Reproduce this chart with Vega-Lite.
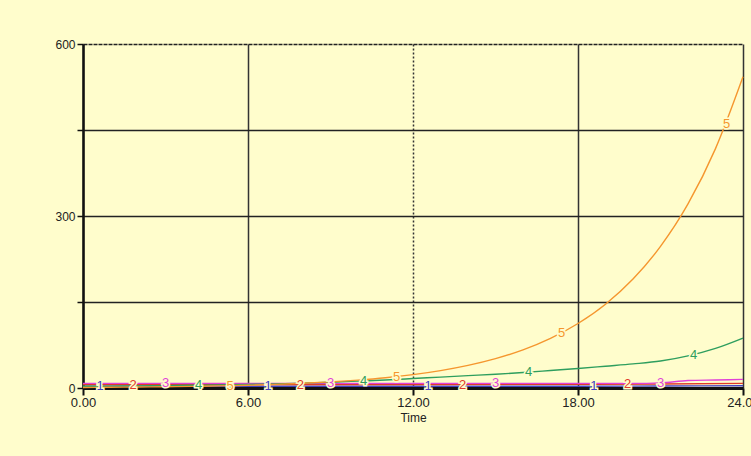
{
  "$schema": "https://vega.github.io/schema/vega-lite/v6.json",
  "autosize": "none",
  "width": 660,
  "height": 344,
  "padding": {"left": 83, "top": 44, "right": 8, "bottom": 68},
  "background": "#FFFDCC",
  "config": {
    "view": {"stroke": null},
    "font": "Liberation Sans"
  },
  "datasets": {
    "lines": [
      {"t": 0, "s": "1", "v": 3}, {"t": 6, "s": "1", "v": 3}, {"t": 12, "s": "1", "v": 3}, {"t": 18, "s": "1", "v": 3}, {"t": 21, "s": "1", "v": 3.5}, {"t": 24, "s": "1", "v": 4},
      {"t": 0, "s": "2", "v": 6}, {"t": 6, "s": "2", "v": 6}, {"t": 12, "s": "2", "v": 6}, {"t": 18, "s": "2", "v": 6.5}, {"t": 21, "s": "2", "v": 7}, {"t": 24, "s": "2", "v": 8},
      {"t": 0, "s": "3", "v": 8}, {"t": 6, "s": "3", "v": 8}, {"t": 12, "s": "3", "v": 8}, {"t": 18, "s": "3", "v": 8}, {"t": 20, "s": "3", "v": 8}, {"t": 21, "s": "3", "v": 9}, {"t": 22, "s": "3", "v": 13}, {"t": 23, "s": "3", "v": 14}, {"t": 24, "s": "3", "v": 15},
      {"t": 0, "s": "4", "v": 3}, {"t": 1, "s": "4", "v": 3.3}, {"t": 2, "s": "4", "v": 3.7}, {"t": 3, "s": "4", "v": 4.2}, {"t": 4, "s": "4", "v": 4.8}, {"t": 5, "s": "4", "v": 5.5}, {"t": 6, "s": "4", "v": 6.3}, {"t": 7, "s": "4", "v": 7.2}, {"t": 8, "s": "4", "v": 8.5}, {"t": 9, "s": "4", "v": 10}, {"t": 10, "s": "4", "v": 12}, {"t": 11, "s": "4", "v": 14}, {"t": 12, "s": "4", "v": 16.5}, {"t": 13, "s": "4", "v": 19}, {"t": 14, "s": "4", "v": 21.5}, {"t": 15, "s": "4", "v": 24}, {"t": 16, "s": "4", "v": 27}, {"t": 17, "s": "4", "v": 30.5}, {"t": 18, "s": "4", "v": 34}, {"t": 19, "s": "4", "v": 38}, {"t": 20, "s": "4", "v": 42}, {"t": 21, "s": "4", "v": 47}, {"t": 22, "s": "4", "v": 56}, {"t": 23, "s": "4", "v": 69}, {"t": 24, "s": "4", "v": 87},
      {"t": 0, "s": "5", "v": 1}, {"t": 1, "s": "5", "v": 1.3}, {"t": 2, "s": "5", "v": 1.69}, {"t": 3, "s": "5", "v": 2.2}, {"t": 4, "s": "5", "v": 2.86}, {"t": 5, "s": "5", "v": 3.71}, {"t": 6, "s": "5", "v": 4.83}, {"t": 7, "s": "5", "v": 6.27}, {"t": 8, "s": "5", "v": 8.16}, {"t": 9, "s": "5", "v": 10.6}, {"t": 10, "s": "5", "v": 13.8}, {"t": 11, "s": "5", "v": 17.9}, {"t": 12, "s": "5", "v": 23.3}, {"t": 13, "s": "5", "v": 30.3}, {"t": 14, "s": "5", "v": 39.4}, {"t": 15, "s": "5", "v": 51.2}, {"t": 16, "s": "5", "v": 66.5}, {"t": 17, "s": "5", "v": 86.5}, {"t": 18, "s": "5", "v": 112.5}, {"t": 19, "s": "5", "v": 146.2}, {"t": 20, "s": "5", "v": 190}, {"t": 21, "s": "5", "v": 247}, {"t": 22, "s": "5", "v": 321}, {"t": 23, "s": "5", "v": 417.5}, {"t": 24, "s": "5", "v": 542.8}
    ],
    "labels": [
      {"t": 0.62, "s": "1", "v": 3}, {"t": 6.73, "s": "1", "v": 3}, {"t": 12.55, "s": "1", "v": 3}, {"t": 18.58, "s": "1", "v": 3},
      {"t": 1.82, "s": "2", "v": 6}, {"t": 7.9, "s": "2", "v": 6}, {"t": 13.8, "s": "2", "v": 6}, {"t": 19.8, "s": "2", "v": 6.5},
      {"t": 3.0, "s": "3", "v": 8}, {"t": 9.0, "s": "3", "v": 8}, {"t": 15.0, "s": "3", "v": 8}, {"t": 21.0, "s": "3", "v": 9},
      {"t": 4.2, "s": "4", "v": 4.8}, {"t": 10.2, "s": "4", "v": 12.5}, {"t": 16.2, "s": "4", "v": 27.5}, {"t": 22.2, "s": "4", "v": 58},
      {"t": 5.35, "s": "5", "v": 4.2}, {"t": 11.4, "s": "5", "v": 19.8}, {"t": 17.4, "s": "5", "v": 96}, {"t": 23.4, "s": "5", "v": 460}
    ]
  },
  "layer": [
    {
      "data": {"name": "lines"},
      "mark": {"type": "line", "strokeWidth": 1.4, "interpolate": "monotone"},
      "encoding": {
        "x": {
          "field": "t", "type": "quantitative",
          "scale": {"domain": [0, 24], "nice": false, "zero": false},
          "axis": {
            "values": [0, 6, 12, 18, 24], "format": ".2f", "title": "Time",
            "titleFontSize": 12, "titleFontWeight": "normal", "titleColor": "#222", "titlePadding": 3,
            "labelFontSize": 13, "labelColor": "#222", "labelPadding": 1,
            "domainColor": "#111", "domainWidth": 3,
            "tickColor": "#111", "tickWidth": 2, "tickSize": 7,
            "grid": true, "gridColor": "#333", "gridWidth": 1.5,
            "gridDash": {"condition": {"test": "datum.value == 12", "value": [2, 2]}, "value": []},
            "labelFlush": false
          }
        },
        "y": {
          "field": "v", "type": "quantitative",
          "scale": {"domain": [0, 600], "nice": false},
          "axis": {
            "values": [0, 150, 300, 450, 600], "title": null,
            "labelExpr": "datum.value % 300 == 0 ? datum.label : ''",
            "labelFontSize": 12, "labelColor": "#222", "labelPadding": 2,
            "domainColor": "#111", "domainWidth": 2.5,
            "tickColor": "#111", "tickWidth": 1.5, "tickSize": 6,
            "grid": true, "gridColor": "#222", "gridWidth": 1.5,
            "gridDash": {"condition": {"test": "datum.value == 600", "value": [4, 1]}, "value": []}
          }
        },
        "color": {
          "field": "s", "type": "nominal",
          "scale": {"domain": ["1", "2", "3", "4", "5"], "range": ["#4040C0", "#E03A2A", "#E040D8", "#2E9E5E", "#F5962E"]},
          "legend": null
        },
        "strokeWidth": {
          "field": "s", "type": "nominal",
          "scale": {"domain": ["1", "2", "3", "4", "5"], "range": [2, 2, 2, 1.4, 1.4]},
          "legend": null
        }
      }
    },
    {
      "data": {"name": "labels"},
      "mark": {"type": "text", "fontSize": 13, "stroke": "#FFFDCC", "strokeWidth": 3, "baseline": "middle", "align": "center"},
      "encoding": {
        "x": {"field": "t", "type": "quantitative"},
        "y": {"field": "v", "type": "quantitative"},
        "text": {"field": "s"},
        "color": {"field": "s", "type": "nominal", "legend": null}
      }
    },
    {
      "data": {"name": "labels"},
      "mark": {"type": "text", "fontSize": 13, "baseline": "middle", "align": "center"},
      "encoding": {
        "x": {"field": "t", "type": "quantitative"},
        "y": {"field": "v", "type": "quantitative"},
        "text": {"field": "s"},
        "color": {"field": "s", "type": "nominal", "legend": null}
      }
    }
  ]
}
